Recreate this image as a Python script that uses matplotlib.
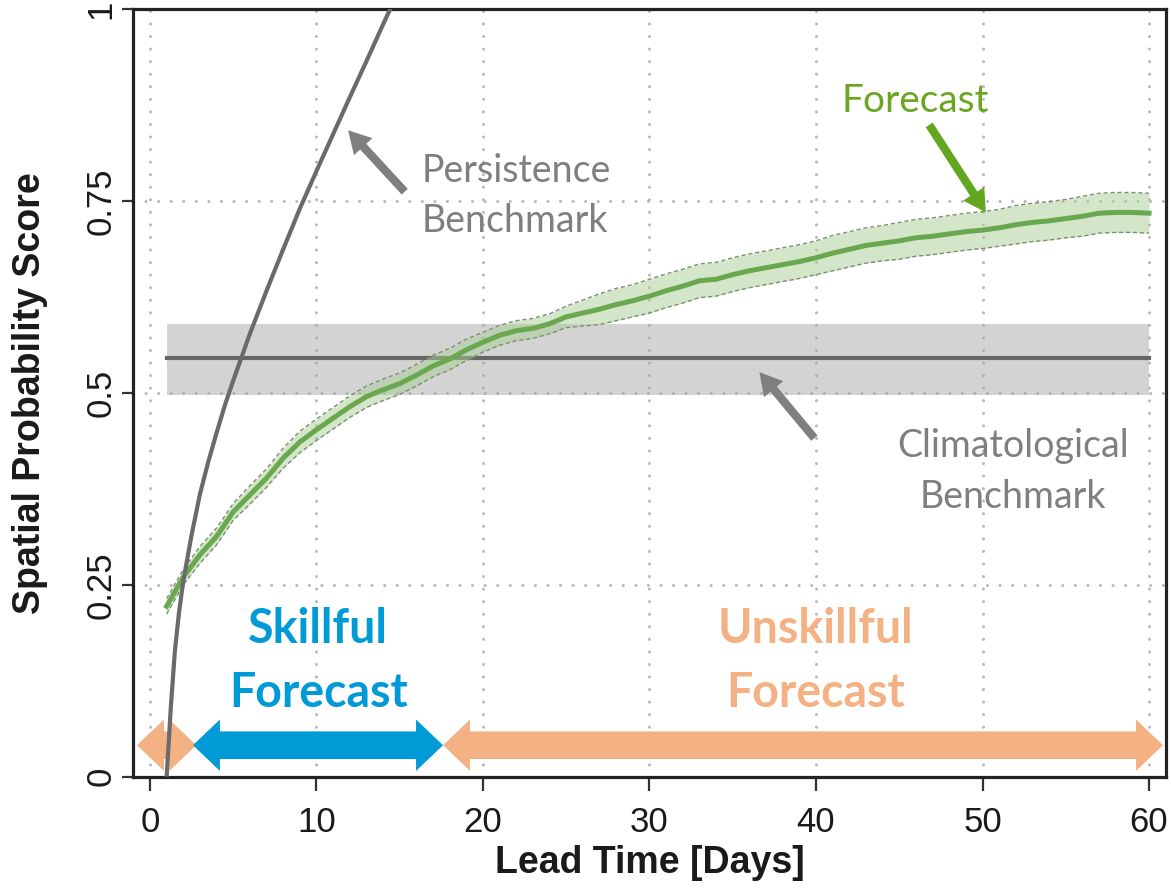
import matplotlib
matplotlib.use("Agg")
import matplotlib.pyplot as plt
from matplotlib.patches import FancyArrow

# ---- data -------------------------------------------------------------
lead_days = list(range(1, 61))
forecast_mean = [
    0.222, 0.260, 0.289, 0.313, 0.345, 0.367, 0.389, 0.415, 0.436, 0.452,
    0.467, 0.482, 0.495, 0.504, 0.512, 0.523, 0.535, 0.544, 0.556, 0.566,
    0.575, 0.581, 0.584, 0.590, 0.599, 0.604, 0.609, 0.615, 0.620, 0.626,
    0.633, 0.639, 0.646, 0.648, 0.654, 0.659, 0.663, 0.667, 0.671, 0.676,
    0.682, 0.687, 0.692, 0.695, 0.698, 0.702, 0.704, 0.707, 0.710, 0.712,
    0.715, 0.719, 0.722, 0.724, 0.727, 0.730, 0.734, 0.735, 0.735, 0.734,
]
forecast_spread = [
    0.010, 0.010, 0.011, 0.011, 0.011, 0.012, 0.012, 0.013, 0.014, 0.014,
    0.014, 0.014, 0.014, 0.014, 0.014, 0.014, 0.014, 0.014, 0.014, 0.013,
    0.013, 0.013, 0.013, 0.013, 0.014, 0.017, 0.020, 0.021, 0.021, 0.022,
    0.022, 0.022, 0.022, 0.022, 0.022, 0.022, 0.022, 0.022, 0.022, 0.022,
    0.023, 0.023, 0.023, 0.023, 0.024, 0.024, 0.024, 0.024, 0.024, 0.024,
    0.024, 0.025, 0.025, 0.025, 0.025, 0.026, 0.026, 0.026, 0.026, 0.026,
]
persist_days = [1.0, 1.25, 1.5, 1.75, 2.0, 2.5, 3.0, 3.5, 4.0, 4.5, 5.0,
                6, 7, 8, 9, 10, 11, 12, 13, 14, 15]
persist_score = [0.000, 0.090, 0.165, 0.215, 0.255, 0.315, 0.368, 0.410,
                 0.448, 0.484, 0.516, 0.577, 0.633, 0.687, 0.740, 0.789,
                 0.837, 0.885, 0.932, 0.980, 1.027]
clim_days = [1, 60]
clim_mean = 0.545
clim_low = 0.497
clim_high = 0.590

# skill regimes along the bottom: (start, end, kind)
regimes = [(-0.78, 2.78, "unskillful"), (2.58, 17.6, "skillful"),
           (17.6, 60.84, "unskillful")]

x_ticks = [0, 10, 20, 30, 40, 50, 60]
y_ticks = [0, 0.25, 0.5, 0.75, 1]
y_tick_labels = ["0", "0.25", "0.5", "0.75", "1"]

# ---- style --------------------------------------------------------------
GRAY_TXT = "#7f7f7f"
BLUE = "#009bd6"
ORANGE = "#f4b183"
GREEN_TXT = "#6aa621"
GREEN_LINE = "#6aa84f"
ANN_FONT = ["Lato", "DejaVu Sans"]
AX_FONT = ["Liberation Sans", "DejaVu Sans"]

fig = plt.figure(figsize=(11.71, 8.89), dpi=100)
ax = fig.add_axes([133 / 1171, 1 - 776.7 / 889, (1166 - 133) / 1171,
                   (776.7 - 9) / 889])
ax.set_xlim(-1.02, 61.02)
ax.set_ylim(0, 1)

ax.set_xticks(x_ticks)
ax.set_xticklabels([str(t) for t in x_ticks], family=AX_FONT)
ax.set_yticks(y_ticks)
ax.set_yticklabels(y_tick_labels, family=AX_FONT, rotation=90, va="center")
ax.tick_params(axis="x", length=10, width=1.6, color="#333333", pad=11,
               labelsize=25, labelcolor="#1a1a1a")
ax.tick_params(axis="y", length=8, width=1.6, color="#333333", pad=3,
               labelsize=25, labelcolor="#1a1a1a")
for s in ax.spines.values():
    s.set_linewidth(2.3)
    s.set_color("#222222")

ax.grid(True, color="#b8b8b8", linestyle=(0, (0.01, 4.1)), linewidth=2.2,
        dash_capstyle="round")
ax.set_axisbelow(True)

ax.set_xlabel("Lead Time [Days]", family=AX_FONT, fontsize=27,
              fontweight="bold", color="#1a1a1a")
ax.xaxis.set_label_coords(0.5, -0.089)
ax.xaxis.label.set_va("top")
ax.set_ylabel("Spatial Probability Score", family=AX_FONT, fontsize=27,
              fontweight="bold", color="#1a1a1a")
ax.yaxis.set_label_coords(-0.082, 0.5)

# climatological benchmark
ax.fill_between(clim_days, [clim_low] * 2, [clim_high] * 2,
                color="#a9a9a9", alpha=0.5, linewidth=0, zorder=2)
ax.plot(clim_days, [clim_mean] * 2, color="#666666", linewidth=3.0,
        zorder=3)

# forecast with uncertainty band
lo = [m - s for m, s in zip(forecast_mean, forecast_spread)]
hi = [m + s for m, s in zip(forecast_mean, forecast_spread)]
ax.fill_between(lead_days, lo, hi, color="#a8cf94", alpha=0.5,
                linewidth=0, zorder=4)
ax.plot(lead_days, lo, color="#7d8f73", linewidth=1.0, linestyle=(0, (3, 2)),
        zorder=5)
ax.plot(lead_days, hi, color="#7d8f73", linewidth=1.0, linestyle=(0, (3, 2)),
        zorder=5)
ax.plot(lead_days, forecast_mean, color=GREEN_LINE, linewidth=3.6, zorder=6)

# persistence benchmark
ax.plot(persist_days, persist_score, color="#6a6a6a", linewidth=3.0,
        zorder=8, solid_capstyle="butt", solid_joinstyle="round")

# double-headed regime arrows
arrow_y = 0.041
body_w = 0.036
head_w = 0.067
head_l = 1.62
for start, end, kind in regimes:
    col = BLUE if kind == "skillful" else ORANGE
    mid = 0.5 * (start + end)
    for tip in (start, end):
        ax.add_patch(FancyArrow(mid, arrow_y, tip - mid, 0, width=body_w,
                                head_width=head_w, head_length=head_l,
                                length_includes_head=True, color=col,
                                linewidth=0, zorder=7))

# annotations
def label(x, y, lines, color, size, step, **kw):
    for i, line in enumerate(lines):
        ax.text(x, y - i * step, line, color=color, fontsize=size,
                family=ANN_FONT, va="baseline", zorder=10, **kw)

label(16.3, 0.775, ["Persistence", "Benchmark"], GRAY_TXT, 27, 0.065,
      ha="left")
label(51.85, 0.417, ["Climatological", "Benchmark"], GRAY_TXT, 27, 0.067,
      ha="center")
label(45.95, 0.866, ["Forecast"], GREEN_TXT, 28, 0.0, ha="center")
label(10.1, 0.174, ["Skillful", "Forecast"], BLUE, 33.5, 0.083, ha="center",
      fontweight="bold")
label(39.95, 0.174, ["Unskillful", "Forecast"], ORANGE, 33.5, 0.083,
      ha="center", fontweight="bold")

gray_arrow = dict(arrowstyle="simple,head_length=1.6,head_width=1.8,"
                  "tail_width=0.6", mutation_scale=10, shrinkA=0, shrinkB=0,
                  linewidth=0)
ax.annotate("", xy=(11.9, 0.842), xytext=(15.3, 0.762),
            arrowprops=dict(gray_arrow, color="#7f7f7f"), zorder=9)
ax.annotate("", xy=(36.6, 0.527), xytext=(39.9, 0.441),
            arrowprops=dict(gray_arrow, color="#7f7f7f"), zorder=9)
ax.annotate("", xy=(50.2, 0.735), xytext=(46.8, 0.849),
            arrowprops=dict(gray_arrow, color="#62a71f"), zorder=9)

fig.savefig("out.png", dpi=100)
